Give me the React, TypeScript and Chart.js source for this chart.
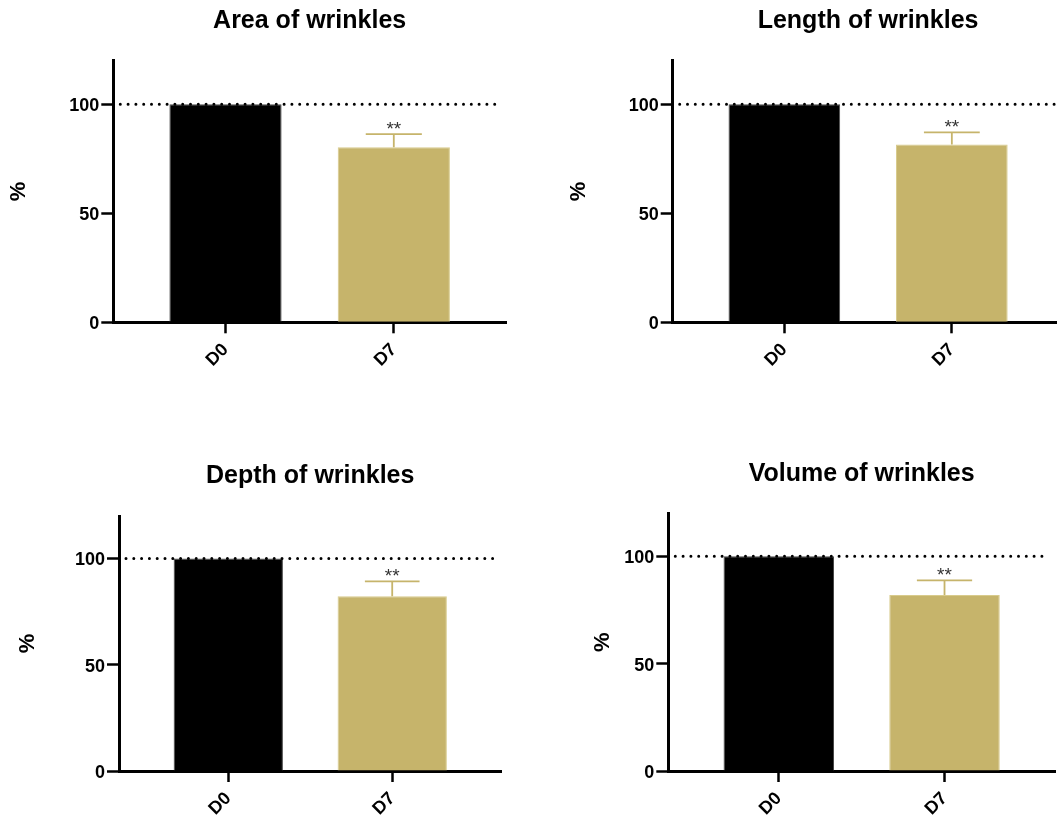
import React, { useEffect, useRef } from 'react';
import { Chart, registerables } from 'chart.js';

Chart.register(...registerables);

const FONT = '"Liberation Sans", Arial, Helvetica, sans-serif';

// ---- data ----
const categories = ['D0', 'D7'];
const titles = ['Area of wrinkles', 'Length of wrinkles', 'Depth of wrinkles', 'Volume of wrinkles'];
const areaValues = [100, 80.3];
const areaErrors = [0, 6.0];
const lengthValues = [100, 81.6];
const lengthErrors = [0, 5.5];
const depthValues = [100, 82.2];
const depthErrors = [0, 7.0];
const volumeValues = [100, 81.9];
const volumeErrors = [0, 6.9];
const significance = ['', '**'];
const yTicks = [0, 50, 100];
const yMin = 0;
const yMax = 120;
const referenceValue = 100;
const yAxisTitle = '%';

// ---- styles / layout ----
const barColors = ['#000000', '#C6B46B'];
const barBorders = ['#4a4a4a', '#D8CB8C'];

type PanelLayout = {
  left: number; top: number; width: number; height: number;
  axisX: number; right: number; plotTop: number; plotBottom: number;
  titleBase: number; pctX: number;
};

const layouts: PanelLayout[] = [
  { left: 0, top: 0, width: 540, height: 411, axisX: 113.3, right: 506, plotTop: 60.7, plotBottom: 322.3, titleBase: 28.3, pctX: 18.5 },
  { left: 540, top: 0, width: 530, height: 411, axisX: 672.7, right: 1063.5, plotTop: 60.7, plotBottom: 322.3, titleBase: 28.3, pctX: 579 },
  { left: 0, top: 430, width: 540, height: 393, axisX: 119, right: 501.5, plotTop: 516, plotBottom: 771, titleBase: 483.3, pctX: 28 },
  { left: 540, top: 430, width: 530, height: 393, axisX: 668.3, right: 1055, plotTop: 513.3, plotBottom: 771, titleBase: 481, pctX: 602.7 },
];

type PanelProps = { title: string; values: number[]; errors: number[]; layout: PanelLayout };

function Panel({ title, values, errors, layout }: PanelProps) {
  const ref = useRef<HTMLCanvasElement>(null);

  useEffect(() => {
    const canvas = ref.current;
    if (!canvas) return;
    const L = layout;
    const pctFontSize = 22;

    const titlePlugin = {
      id: 'panelTitle',
      afterDraw(chart: any) {
        const { ctx, chartArea } = chart;
        ctx.save();
        ctx.font = `bold 25px ${FONT}`;
        ctx.fillStyle = '#000';
        ctx.textAlign = 'center';
        ctx.textBaseline = 'alphabetic';
        ctx.fillText(title, (chartArea.left + chartArea.right) / 2, L.titleBase - L.top);
        ctx.restore();
      },
    };

    const errorPlugin = {
      id: 'errorBars',
      afterDatasetsDraw(chart: any) {
        const { ctx } = chart;
        const yScale = chart.scales.y;
        const meta = chart.getDatasetMeta(0);
        meta.data.forEach((bar: any, i: number) => {
          const err = errors[i];
          if (!err) return;
          const x = bar.x;
          const yBase = yScale.getPixelForValue(values[i]);
          const yTop = yScale.getPixelForValue(values[i] + err);
          const half = bar.width / 4;
          ctx.save();
          ctx.strokeStyle = barColors[i];
          ctx.lineWidth = 1.8;
          ctx.beginPath();
          ctx.moveTo(x, yBase);
          ctx.lineTo(x, yTop);
          ctx.moveTo(x - half, yTop);
          ctx.lineTo(x + half, yTop);
          ctx.stroke();
          if (significance[i]) {
            ctx.fillStyle = '#333';
            ctx.font = `19px ${FONT}`;
            ctx.textAlign = 'center';
            ctx.textBaseline = 'alphabetic';
            ctx.fillText(significance[i], x, yTop + 1);
          }
          ctx.restore();
        });
      },
    };

    const refLinePlugin = {
      id: 'refLine',
      afterDatasetsDraw(chart: any) {
        const { ctx, chartArea } = chart;
        const y = chart.scales.y.getPixelForValue(referenceValue);
        ctx.save();
        ctx.strokeStyle = '#000';
        ctx.lineWidth = 3;
        ctx.lineCap = 'round';
        ctx.setLineDash([0, 7.8]);
        ctx.beginPath();
        ctx.moveTo(chartArea.left + 7, y);
        ctx.lineTo(chartArea.right - 6, y);
        ctx.stroke();
        ctx.restore();
      },
    };

    const chart = new Chart(canvas, {
      type: 'bar',
      data: {
        datasets: [
          {
            data: values.map((v, i) => ({ x: i, y: v })),
            backgroundColor: barColors,
            borderColor: barBorders,
            borderWidth: 1,
            categoryPercentage: 1,
            barPercentage: 2 / 3,
          },
        ],
      },
      options: {
        responsive: false,
        maintainAspectRatio: false,
        animation: false,
        events: [],
        layout: {
          padding: { left: 0, top: L.plotTop - L.top, right: L.left + L.width - L.right, bottom: 0 },
        },
        plugins: {
          legend: { display: false },
          title: { display: false },
          tooltip: { enabled: false },
        },
        scales: {
          x: {
            type: 'linear',
            min: -2 / 3,
            max: 1 + 2 / 3,
            offset: false,
            afterFit(scale: any) {
              scale.height = L.top + L.height - L.plotBottom;
            },
            afterBuildTicks(scale: any) {
              scale.ticks = categories.map((_, i) => ({ value: i }));
            },
            grid: {
              display: true,
              offset: false,
              drawOnChartArea: false,
              drawTicks: true,
              tickLength: 11,
              tickColor: '#000',
              tickWidth: 2.5,
            },
            border: { display: true, color: '#000', width: 3 },
            ticks: {
              autoSkip: false,
              maxRotation: 45,
              minRotation: 45,
              padding: 6,
              color: '#000',
              font: { family: FONT, size: 18, weight: 'bold' },
              callback: (_v: any, index: number) => categories[index] ?? '',
            },
          },
          y: {
            type: 'linear',
            min: yMin,
            max: yMax,
            afterFit(scale: any) {
              scale.width = L.axisX - L.left;
            },
            afterBuildTicks(scale: any) {
              scale.ticks = yTicks.map((v) => ({ value: v }));
            },
            grid: {
              display: true,
              drawOnChartArea: false,
              drawTicks: true,
              tickLength: 12,
              tickColor: '#000',
              tickWidth: 2.5,
            },
            border: { display: true, color: '#000', width: 3 },
            ticks: {
              padding: 2,
              labelOffset: 2,
              color: '#000',
              font: { family: FONT, size: 18, weight: 'bold' },
            },
            title: {
              display: true,
              text: yAxisTitle,
              color: '#000',
              font: { family: FONT, size: pctFontSize, weight: 'bold', lineHeight: 1.2 },
              padding: { top: L.pctX - L.left - (pctFontSize * 1.2) / 2, bottom: 0 },
            },
          },
        },
      } as any,
      plugins: [refLinePlugin, errorPlugin, titlePlugin],
    });

    return () => chart.destroy();
  }, [title, values, errors, layout]);

  return (
    <canvas
      ref={ref}
      width={layout.width}
      height={layout.height}
      style={{
        position: 'absolute',
        left: layout.left,
        top: layout.top,
        width: layout.width,
        height: layout.height,
      }}
    />
  );
}

const panelValues = [areaValues, lengthValues, depthValues, volumeValues];
const panelErrors = [areaErrors, lengthErrors, depthErrors, volumeErrors];

export default function App() {
  return (
    <div
      style={{
        position: 'absolute',
        left: 0,
        top: 0,
        width: 1057,
        height: 823,
        overflow: 'hidden',
        background: '#ffffff',
      }}
    >
      {titles.map((t, i) => (
        <Panel key={t} title={t} values={panelValues[i]} errors={panelErrors[i]} layout={layouts[i]} />
      ))}
    </div>
  );
}
